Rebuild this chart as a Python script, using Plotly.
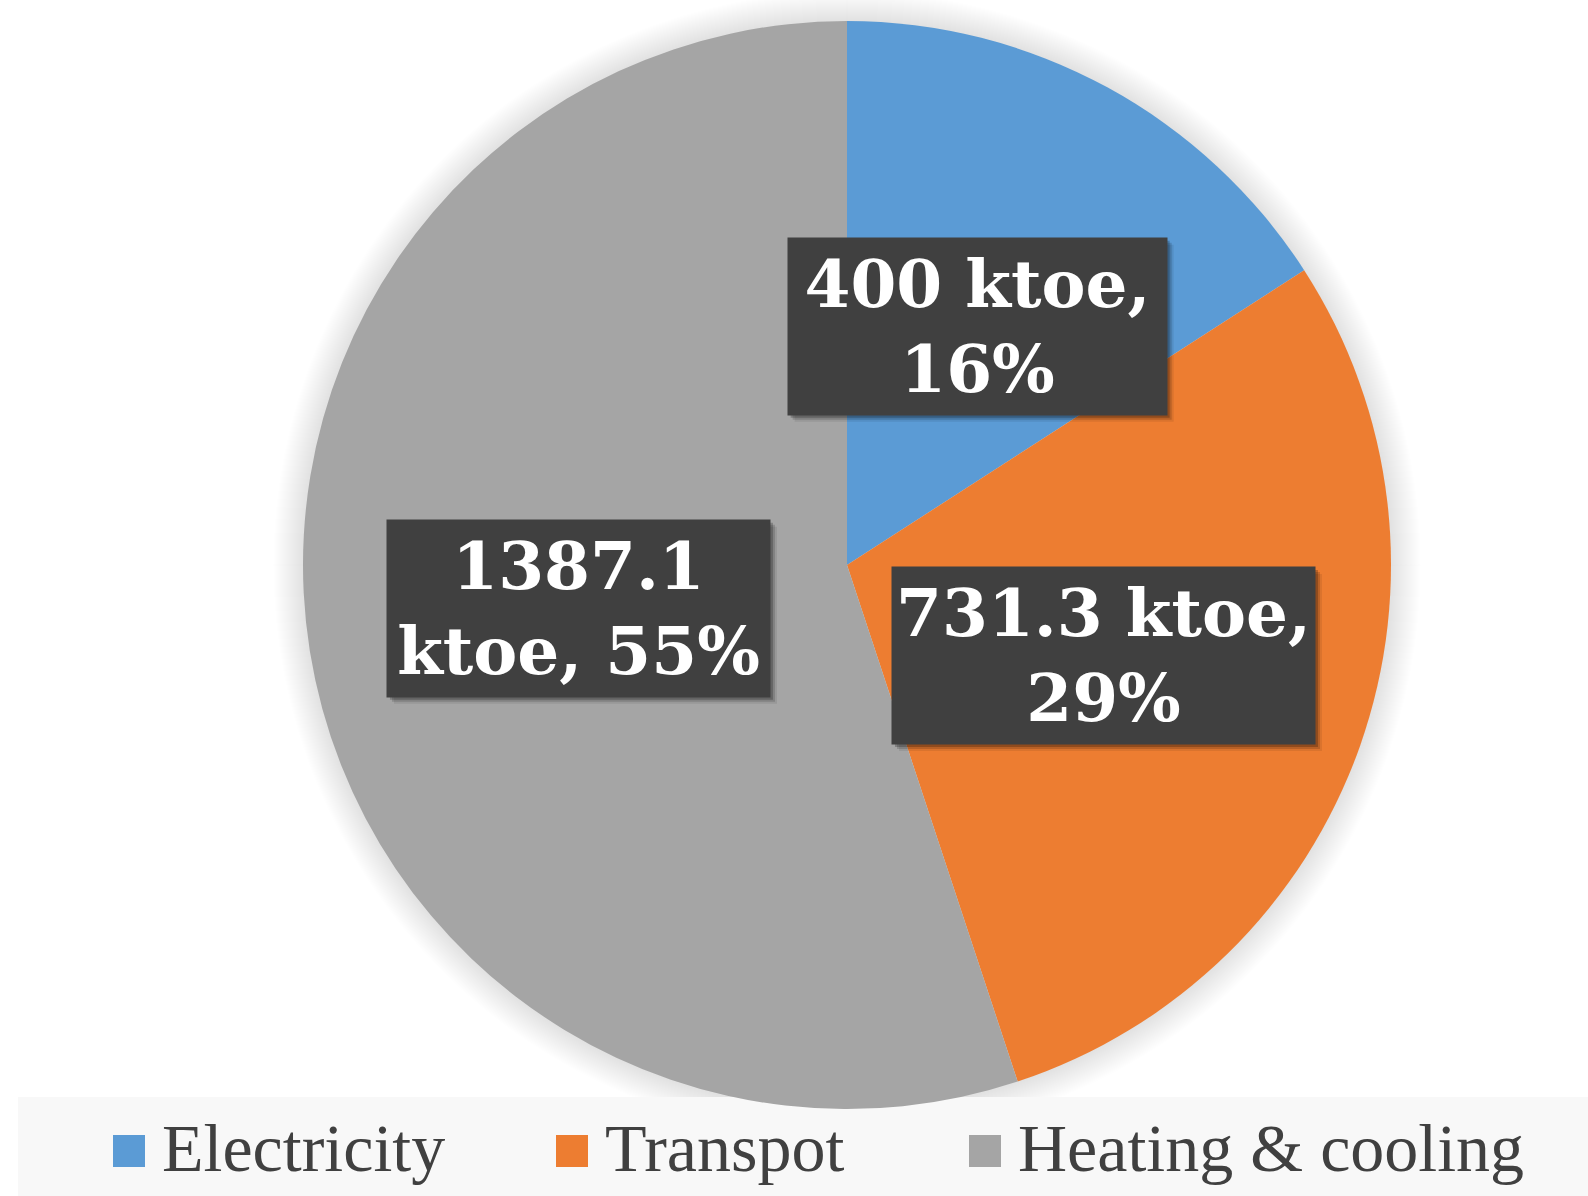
import math
import plotly.graph_objects as go

# ---- data ----
categories = ["Electricity", "Transpot", "Heating & cooling"]
values = [400, 731.3, 1387.1]
unit = "ktoe"

# ---- styles ----
colors = ["#5b9bd5", "#ed7d31", "#a5a5a5"]
W, H = 1588, 1196
CX, CY, R = 847, 565, 544          # pie centre / radius in pixels (from top-left)
label_widths = [379, 423, 383]
label_height = 177

def px_x(x):
    return x / W

def px_y(y):
    return 1 - y / H

fig = go.Figure()
fig.add_trace(go.Pie(
    labels=categories,
    values=values,
    sort=False,
    direction="clockwise",
    rotation=0,
    marker=dict(colors=colors, line=dict(width=0)),
    textinfo="none",
    domain=dict(x=[px_x(CX - R), px_x(CX + R)], y=[px_y(CY + R), px_y(CY - R)]),
    showlegend=False,
    hovertemplate="%{label}: %{value} " + unit + " (%{percent})<extra></extra>",
))

shapes = []
# soft glow around the pie
for k in range(30, 0, -1):
    rr = R + 1.0 * k
    shapes.append(dict(type="circle", xref="paper", yref="paper", layer="below",
                       x0=px_x(CX - rr), x1=px_x(CX + rr),
                       y0=px_y(CY + rr), y1=px_y(CY - rr),
                       fillcolor="rgba(0,0,0,0.0045)", line=dict(width=0)))

# legend background
shapes.append(dict(type="rect", xref="paper", yref="paper", layer="below",
                   x0=px_x(18), x1=px_x(1588), y0=px_y(1196), y1=px_y(1097),
                   fillcolor="#f8f8f8", line=dict(width=0)))

annotations = []
total = sum(values)
cum = 0.0
for i, v in enumerate(values):
    frac = v / total
    mid = (cum + frac / 2) * 2 * math.pi
    cum += frac
    lx = CX + 0.5 * R * math.sin(mid)
    ly = CY - 0.5 * R * math.cos(mid)
    pct = round(frac * 100)
    vtxt = f"{v:g}"
    if i == 2:
        txt = f"{vtxt}<br>{unit}, {pct}%"
    else:
        txt = f"{vtxt} {unit},<br>{pct}%"
    w = label_widths[i]
    h = label_height
    # drop shadow
    for off, a in [(7, 0.08), (5, 0.15), (3, 0.22)]:
        shapes.append(dict(type="rect", xref="paper", yref="paper", layer="above",
                           x0=px_x(lx - w / 2 + off), x1=px_x(lx + w / 2 + off),
                           y0=px_y(ly + h / 2 + off), y1=px_y(ly - h / 2 + off),
                           fillcolor=f"rgba(0,0,0,{a})", line=dict(width=0)))
    annotations.append(dict(
        x=px_x(lx), y=px_y(ly), xref="paper", yref="paper",
        text=txt, showarrow=False, width=w, height=h,
        xanchor="center", yanchor="middle", align="center", valign="middle",
        bgcolor="#404040", borderpad=0,
        font=dict(family="DejaVu Serif", size=66, color="white", weight="bold"),
    ))

# custom legend
legend_square_x = [113, 556, 969]
legend_text_x = [160, 603, 1016]
for i, name in enumerate(categories):
    shapes.append(dict(type="rect", xref="paper", yref="paper", layer="above",
                       x0=px_x(legend_square_x[i]), x1=px_x(legend_square_x[i] + 32),
                       y0=px_y(1167), y1=px_y(1135),
                       fillcolor=colors[i], line=dict(width=0)))
    annotations.append(dict(
        x=px_x(legend_text_x[i]), y=px_y(1148), xref="paper", yref="paper",
        text=name, showarrow=False, xanchor="left", yanchor="middle",
        font=dict(family="Liberation Serif", size=68, color="#404040"),
    ))

fig.update_layout(
    width=W, height=H, autosize=False,
    margin=dict(l=0, r=0, t=0, b=0),
    paper_bgcolor="white", plot_bgcolor="white",
    shapes=shapes, annotations=annotations,
    showlegend=False,
)

fig.write_html("out.html")
